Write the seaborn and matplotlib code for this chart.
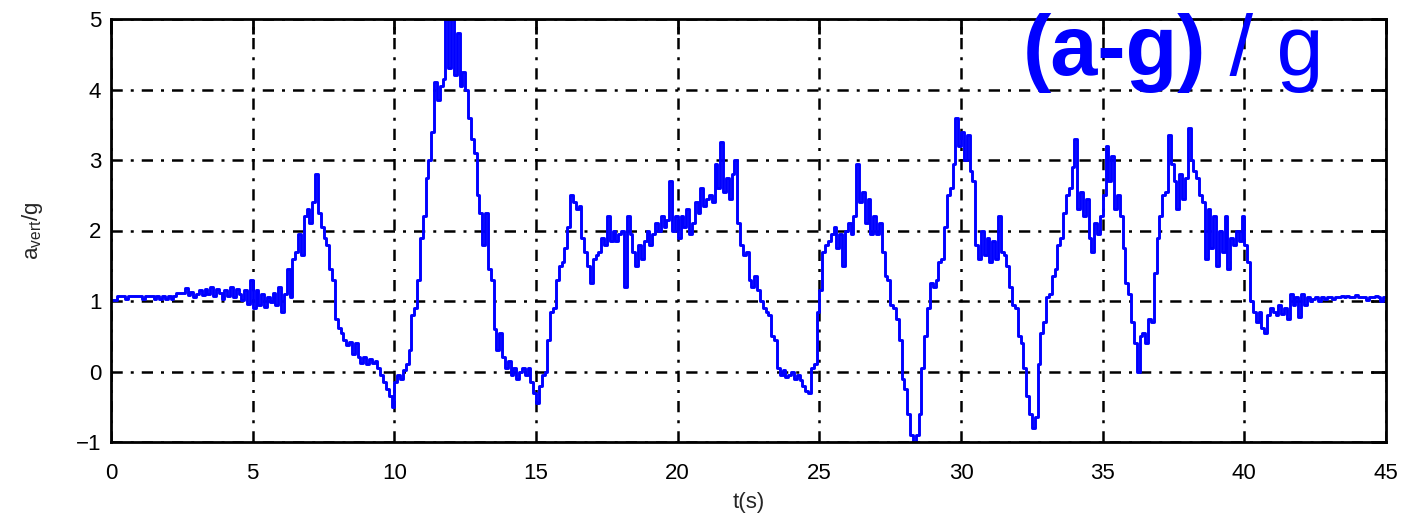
import numpy as np
import pandas as pd
import matplotlib
matplotlib.use("Agg")
import matplotlib.pyplot as plt
import seaborn as sns

# ---- data: vertical acceleration / g, sampled every 0.1 s ----
seg_00_05 = [1.02, 1.02, 1.07, 1.07, 1.07, 1.03, 1.07, 1.07, 1.07, 1.07,
             1.07, 1.03, 1.07, 1.07, 1.07, 1.03, 1.07, 1.03, 1.07, 1.03,
             1.07, 1.03, 1.07, 1.12, 1.12, 1.12, 1.18, 1.08, 1.13, 1.05,
             1.10, 1.15, 1.08, 1.17, 1.10, 1.20, 1.07, 1.17, 1.12, 1.03,
             1.15, 1.07, 1.20, 1.05, 1.17, 1.10, 1.02, 1.15, 0.96, 1.30]
seg_05_10 = [0.90, 1.15, 0.95, 1.10, 0.92, 1.05, 0.98, 1.12, 0.95, 1.20,
             0.85, 1.10, 1.45, 1.05, 1.60, 1.70, 1.95, 1.65, 2.20, 2.30,
             2.10, 2.40, 2.80, 2.25, 2.05, 1.90, 1.80, 1.45, 1.30, 0.75,
             0.62, 0.55, 0.45, 0.38, 0.42, 0.25, 0.40, 0.20, 0.12, 0.20,
             0.10, 0.18, 0.12, 0.15, 0.05, -0.05, -0.15, -0.25, -0.35, -0.50]
seg_10_15 = [-0.15, -0.05, -0.10, 0.02, 0.10, 0.30, 0.80, 0.90, 1.30, 1.90,
             2.20, 2.75, 3.00, 3.40, 4.10, 3.85, 4.05, 4.15, 5.10, 4.30,
             5.10, 4.20, 4.80, 4.05, 4.25, 4.00, 3.60, 3.30, 3.10, 2.50,
             2.25, 1.80, 2.25, 1.45, 1.30, 0.60, 0.30, 0.55, 0.20, 0.05,
             0.15, -0.05, 0.05, -0.10, 0.00, 0.05, -0.05, 0.05, -0.15, -0.30]
seg_15_20 = [-0.45, -0.20, -0.05, 0.00, 0.45, 0.85, 0.90, 1.30, 1.50, 1.55,
             1.75, 2.05, 2.50, 2.40, 2.30, 2.35, 1.90, 1.70, 1.50, 1.25,
             1.60, 1.65, 1.70, 1.90, 1.80, 2.20, 1.85, 2.00, 1.85, 1.95,
             2.00, 1.20, 2.20, 1.95, 1.70, 1.50, 1.80, 1.60, 1.85, 2.00,
             1.80, 1.95, 2.10, 2.00, 2.20, 2.05, 2.15, 2.70, 2.00, 2.20]
seg_20_25 = [1.90, 2.20, 2.05, 2.30, 1.95, 2.10, 2.40, 2.25, 2.60, 2.35,
             2.45, 2.50, 2.40, 2.95, 2.60, 3.25, 2.55, 2.75, 2.45, 2.80,
             3.00, 2.10, 1.80, 1.65, 1.70, 1.30, 1.20, 1.35, 1.15, 1.00,
             0.90, 0.85, 0.80, 0.50, 0.45, 0.05, -0.05, 0.02, -0.08, -0.05,
             0.00, -0.10, -0.05, -0.12, -0.20, -0.28, -0.30, 0.05, 0.10, 0.85]
seg_25_30 = [1.15, 1.70, 1.80, 1.85, 1.95, 2.05, 1.75, 1.95, 1.50, 2.00,
             2.10, 1.95, 2.20, 2.95, 2.40, 2.55, 2.10, 2.45, 1.95, 2.20,
             1.95, 2.10, 1.70, 1.35, 1.30, 0.95, 0.90, 0.75, 0.45, -0.10,
             -0.25, -0.60, -0.90, -1.00, -0.90, -0.60, 0.05, 0.50, 0.90, 1.25,
             1.20, 1.30, 1.55, 1.60, 2.05, 2.50, 2.60, 2.95, 3.60, 3.20]
seg_30_35 = [3.40, 3.00, 3.35, 2.85, 2.70, 1.80, 1.60, 2.00, 1.65, 1.90,
             1.55, 1.85, 1.60, 2.20, 1.70, 1.65, 1.50, 1.20, 0.95, 0.90,
             0.50, 0.40, 0.05, -0.35, -0.60, -0.80, -0.65, 0.10, 0.55, 0.70,
             1.05, 1.10, 1.35, 1.45, 1.80, 1.90, 2.25, 2.50, 2.60, 2.90,
             3.30, 2.30, 2.55, 2.20, 2.45, 1.90, 1.70, 2.10, 1.95, 2.20]
seg_35_40 = [2.50, 3.20, 2.70, 3.05, 2.30, 2.50, 2.20, 1.75, 1.25, 1.10,
             0.70, 0.40, 0.00, 0.50, 0.55, 0.40, 0.75, 0.70, 1.40, 1.90,
             2.20, 2.50, 2.55, 3.35, 2.95, 2.70, 2.30, 2.80, 2.45, 2.75,
             3.45, 3.00, 2.85, 2.75, 2.50, 2.40, 1.60, 2.30, 1.75, 2.20,
             1.50, 2.00, 1.70, 2.20, 1.45, 1.90, 1.80, 2.00, 1.85, 2.20]
seg_40_45 = [1.80, 1.55, 1.00, 0.85, 0.70, 0.85, 0.62, 0.55, 0.80, 0.90,
             0.85, 0.80, 0.95, 0.82, 0.90, 0.75, 1.10, 0.95, 1.05, 0.78,
             1.10, 0.95, 1.05, 1.00, 1.03, 1.05, 1.00, 1.05, 1.03, 1.05,
             1.05, 1.03, 1.05, 1.05, 1.07, 1.05, 1.07, 1.05, 1.05, 1.08,
             1.05, 1.05, 1.05, 1.02, 1.05, 1.05, 1.07, 1.05, 1.00, 1.05,
             1.05]

x_ticks = [0, 5, 10, 15, 20, 25, 30, 35, 40, 45]
y_ticks = [-1, 0, 1, 2, 3, 4, 5]

a_vert = np.array(seg_00_05 + seg_05_10 + seg_10_15 + seg_15_20 + seg_20_25
                  + seg_25_30 + seg_30_35 + seg_35_40 + seg_40_45)
t = np.round(np.arange(len(a_vert)) * 0.1, 2)
df = pd.DataFrame({"t": t, "a": a_vert})

sns.set_theme(style="white")
plt.rcParams["font.family"] = ["Liberation Sans", "DejaVu Sans"]
plt.rcParams["mathtext.fontset"] = "custom"
plt.rcParams["mathtext.rm"] = "Liberation Sans"

fig = plt.figure(figsize=(14.1, 5.2), dpi=100)
ax = fig.add_axes([111 / 1410, 78 / 520, 1275 / 1410, 423 / 520])

sns.lineplot(data=df, x="t", y="a", ax=ax, color="#0000ff", linewidth=2.1,
             drawstyle="steps-post", estimator=None, sort=False, zorder=3)

ax.set_xlim(0, 45)
ax.set_ylim(-1, 5)
ax.set_xticks(x_ticks)
ax.set_yticks(y_ticks)
ax.set_xticklabels([str(v) for v in x_ticks])
ax.set_yticklabels(["\u22121" if v == -1 else str(v) for v in y_ticks])

ax.grid(True, color="black", linewidth=1.8, linestyle=(0, (4.5, 3.2, 1.2, 3.2)))
for s in ax.spines.values():
    s.set_color("black")
    s.set_linewidth(2.0)
    s.set_zorder(5)
ax.tick_params(direction="in", length=11, width=2.0, colors="black",
               labelsize=16, top=True, right=True)
ax.tick_params(axis="x", pad=15)
ax.tick_params(axis="y", pad=7)

ax.set_xlabel("t(s)", fontsize=16, labelpad=6)
ax.set_ylabel(r"$\mathregular{a_{vert}/g}$", fontsize=16, labelpad=22)

t1 = ax.text(0.715, 0.8676, "(a-g)", transform=ax.transAxes, fontsize=61,
             fontweight="bold", color="#0000ff", va="baseline", ha="left",
             zorder=6, clip_on=False)
fig.canvas.draw()
bb = t1.get_window_extent().transformed(ax.transAxes.inverted())
ax.text(bb.x1, 0.8676, " / g", transform=ax.transAxes, fontsize=61,
        color="#0000ff", va="baseline", ha="left", zorder=6, clip_on=False)

fig.savefig("out.png", dpi=100)
